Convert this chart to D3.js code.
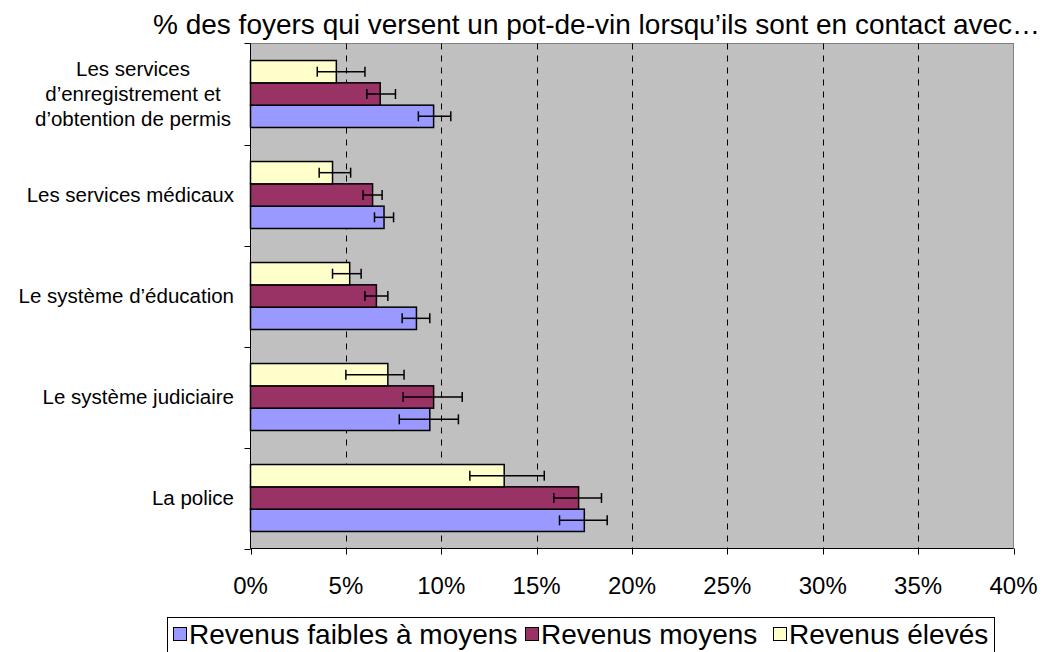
<!DOCTYPE html>
<html>
<head>
<meta charset="utf-8">
<script src="https://cdn.jsdelivr.net/npm/d3@7"></script>
<style>
  body { margin: 0; background: #fff; }
  text { font-family: "Liberation Sans", Arial, sans-serif; fill: #000; }
</style>
</head>
<body>
<div id="chart"></div>
<script>
// categories, top to bottom
var categories = [
  "Les services d’enregistrement et d’obtention de permis",
  "Les services médicaux",
  "Le système d’éducation",
  "Le système judiciaire",
  "La police"
];
var categoryLines = [
  ["Les services", "d’enregistrement et", "d’obtention de permis"],
  ["Les services médicaux"],
  ["Le système d’éducation"],
  ["Le système judiciaire"],
  ["La police"]
];

var seriesNames = ["Revenus faibles à moyens", "Revenus moyens", "Revenus élevés"];
var seriesColors = ["#9999FF", "#993366", "#FFFFCC"];

// values in %
var lowMid = [9.6, 7.0, 8.7, 9.4, 17.5];
var lowMidErrLo = [8.8, 6.5, 7.95, 7.8, 16.2];
var lowMidErrHi = [10.5, 7.5, 9.4, 10.9, 18.7];

var mid = [6.8, 6.4, 6.6, 9.6, 17.2];
var midErrLo = [6.1, 5.9, 6.0, 8.0, 15.9];
var midErrHi = [7.6, 6.9, 7.2, 11.1, 18.4];

var high = [4.5, 4.3, 5.2, 7.2, 13.3];
var highErrLo = [3.5, 3.6, 4.3, 5.0, 11.5];
var highErrHi = [6.0, 5.25, 5.8, 8.05, 15.4];

var xTicks = [0, 5, 10, 15, 20, 25, 30, 35, 40];

var title = "% des foyers qui versent un pot-de-vin lorsqu’ils sont en contact avec…";

var series = [
  {name: seriesNames[0], color: seriesColors[0], vals: lowMid, lo: lowMidErrLo, hi: lowMidErrHi},
  {name: seriesNames[1], color: seriesColors[1], vals: mid, lo: midErrLo, hi: midErrHi},
  {name: seriesNames[2], color: seriesColors[2], vals: high, lo: highErrLo, hi: highErrHi}
];

var W = 1050, H = 652;
var plot = {left: 250.5, right: 1013.5, top: 43.5, bottom: 548.5};

var svg = d3.select("#chart").append("svg")
  .attr("width", W)
  .attr("height", H);

var xScale = d3.scaleLinear()
  .domain([0, 40])
  .range([plot.left, plot.right]);

var yScale = d3.scaleBand()
  .domain(categories)
  .range([plot.top, plot.bottom])
  .paddingInner(0.337)
  .paddingOuter(0.1685);

// Excel draws the last series on top
var subScale = d3.scaleBand()
  .domain([2, 1, 0])
  .range([0, yScale.bandwidth()]);

// plot background
svg.append("rect")
  .attr("x", plot.left)
  .attr("y", plot.top)
  .attr("width", plot.right - plot.left)
  .attr("height", plot.bottom - plot.top)
  .attr("fill", "#C0C0C0")
  .attr("stroke", "#808080")
  .attr("stroke-width", 1);

// dashed grid
svg.selectAll(".grid")
  .data(xTicks.slice(1, -1))
  .enter().append("line")
  .attr("class", "grid")
  .attr("x1", d => Math.round(xScale(d)) + 0.5)
  .attr("x2", d => Math.round(xScale(d)) + 0.5)
  .attr("y1", plot.top)
  .attr("y2", plot.bottom)
  .attr("stroke", "#000")
  .attr("stroke-width", 1)
  .attr("stroke-dasharray", "6,6");

// bars
series.forEach(function(s, si) {
  var g = svg.append("g");
  g.selectAll("rect")
    .data(categories)
    .enter().append("rect")
    .attr("x", xScale(0))
    .attr("y", (d) => yScale(d) + subScale(si))
    .attr("width", (d, i) => xScale(s.vals[i]) - xScale(0))
    .attr("height", subScale.bandwidth())
    .attr("fill", s.color)
    .attr("stroke", "#000")
    .attr("stroke-width", 1.5);
});

// error bars
series.forEach(function(s, si) {
  var g = svg.append("g");
  categories.forEach(function(c, i) {
    var cy = yScale(c) + subScale(si) + subScale.bandwidth() / 2;
    g.append("line")
      .attr("x1", xScale(s.lo[i])).attr("x2", xScale(s.hi[i]))
      .attr("y1", cy).attr("y2", cy)
      .attr("stroke", "#000").attr("stroke-width", 1.5);
    [s.lo[i], s.hi[i]].forEach(function(v) {
      g.append("line")
        .attr("x1", xScale(v)).attr("x2", xScale(v))
        .attr("y1", cy - 5).attr("y2", cy + 5)
        .attr("stroke", "#000").attr("stroke-width", 1.5);
    });
  });
});

// y axis line and ticks
svg.append("line")
  .attr("x1", plot.left).attr("x2", plot.left)
  .attr("y1", plot.top).attr("y2", plot.bottom)
  .attr("stroke", "#000");
var yBounds = categories.map((c) => yScale(c) - yScale.step() * yScale.paddingInner() / 2);
yBounds.push(plot.bottom);
svg.selectAll(".ytick")
  .data(yBounds)
  .enter().append("line")
  .attr("x1", plot.left - 6).attr("x2", plot.left)
  .attr("y1", (d) => Math.round(d) + 0.5).attr("y2", (d) => Math.round(d) + 0.5)
  .attr("stroke", "#000");

// x axis
svg.append("line")
  .attr("x1", plot.left).attr("x2", plot.right)
  .attr("y1", plot.bottom).attr("y2", plot.bottom)
  .attr("stroke", "#000");
svg.selectAll(".xtick")
  .data(xTicks)
  .enter().append("line")
  .attr("x1", (d) => Math.round(xScale(d)) + 0.5)
  .attr("x2", (d) => Math.round(xScale(d)) + 0.5)
  .attr("y1", plot.bottom).attr("y2", plot.bottom + 6)
  .attr("stroke", "#000");
svg.selectAll(".xlabel")
  .data(xTicks)
  .enter().append("text")
  .attr("x", (d) => xScale(d))
  .attr("y", 594)
  .attr("text-anchor", "middle")
  .style("font-size", "24px")
  .text((d) => d + "%");

// category labels
categories.forEach(function(c, i) {
  var lines = categoryLines[i];
  var cy = yScale(c) + yScale.bandwidth() / 2;
  var lh = 25;
  var multi = lines.length > 1;
  lines.forEach(function(l, li) {
    svg.append("text")
      .attr("x", multi ? 133 : 234)
      .attr("y", cy + (li - (lines.length - 1) / 2) * lh + 7)
      .attr("text-anchor", multi ? "middle" : "end")
      .style("font-size", "20.5px")
      .text(l);
  });
});

// title
svg.append("text")
  .attr("x", 153)
  .attr("y", 34)
  .style("font-size", "28px")
  .text(title);

// legend
var leg = svg.append("g");
leg.append("rect")
  .attr("x", 167.5).attr("y", 617.5)
  .attr("width", 827).attr("height", 50)
  .attr("fill", "#fff")
  .attr("stroke", "#000");
var legX = [173, 525, 773];
series.forEach(function(s, si) {
  leg.append("rect")
    .attr("x", legX[si] + 0.5).attr("y", 627.5)
    .attr("width", 13).attr("height", 13)
    .attr("fill", s.color)
    .attr("stroke", "#000");
  leg.append("text")
    .attr("x", legX[si] + 16)
    .attr("y", 644)
    .style("font-size", "28px")
    .text(s.name);
});
</script>
</body>
</html>
